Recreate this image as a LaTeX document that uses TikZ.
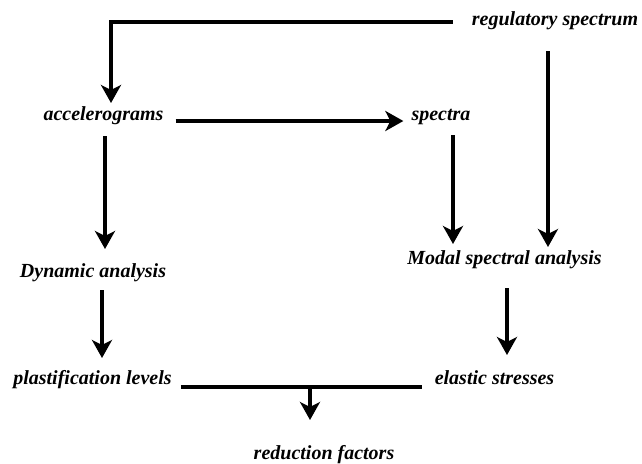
\documentclass[tikz,border=0pt]{standalone}
\usepackage{fontspec}
\setmainfont{Liberation Serif}
\usetikzlibrary{arrows.meta,calc}
\tikzset{
  lbl/.style={anchor=base,inner sep=0pt,font=\fontsize{20}{24}\selectfont\bfseries\itshape},
  conn/.style={line width=3.3pt},
  arr/.style={conn,-{Stealth[length=18pt,width=20pt,inset=5pt]}}
}
\begin{document}
\begin{tikzpicture}[x=1pt,y=1pt]
\useasboundingbox (0,0) rectangle (642,-463);
\node[lbl] (reg) at (555,-25) {regulatory spectrum};
\node[lbl] (acc) at (103.5,-120) {accelerograms};
\node[lbl] (spec) at (441,-120) {spectra};
\node[lbl] (dyn) at (93,-277) {Dynamic analysis};
\node[lbl] (modal) at (504.5,-264) {Modal spectral analysis};
\node[lbl] (plast) at (92.5,-384) {plastification levels};
\node[lbl] (elastic) at (494.5,-384) {elastic stresses};
\node[lbl] (red) at (324,-459) {reduction factors};
% connectors
\draw[arr] ($(reg.base west)+(-19,3)$) -| ($(acc.base)+(7.5,17)$);
\draw[arr] ($(acc.base east)+(12,-1)$) -- ($(spec.base west)+(-8,-1)$);
\draw[arr] ($(acc.base)+(1.5,-16)$) -- ($(acc.base |- dyn.base)+(1.5,28)$);
\draw[arr] ($(spec.base)+(12,-15)$) -- ($(spec.base |- modal.base)+(12,20)$);
\draw[arr] ($(reg.base)+(-7,-26)$) -- ($(reg.base |- modal.base)+(-7,17)$);
\draw[arr] ($(dyn.base)+(9,-13)$) -- ($(dyn.base |- plast.base)+(9,26)$);
\draw[arr] ($(modal.base)+(2.5,-24)$) -- ($(modal.base |- elastic.base)+(2.5,29)$);
\draw[conn] ($(plast.base east)+(9,-3)$) -- ($(elastic.base west)+(-13,-3)$);
\draw[arr] ($(red.base)+(-14,72)$) -- ($(red.base)+(-14,39)$);
\end{tikzpicture}
\end{document}
